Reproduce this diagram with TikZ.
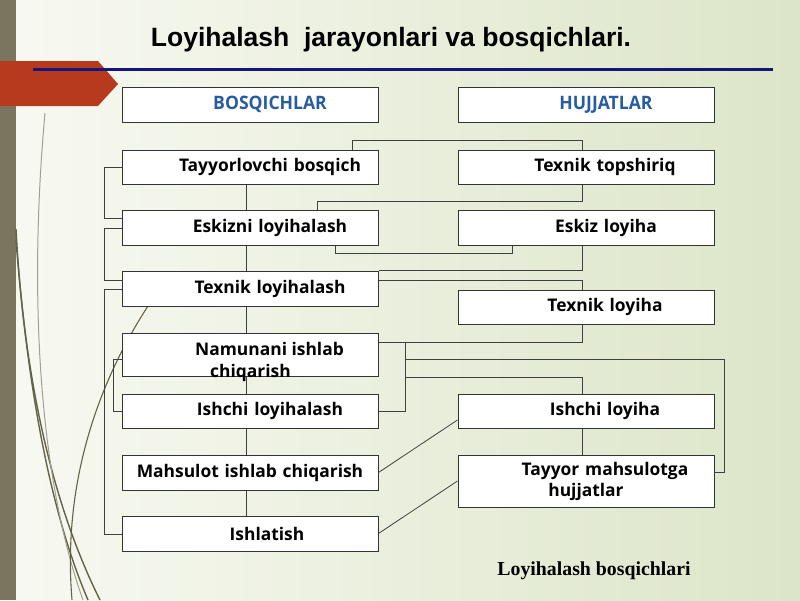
\documentclass[tikz,border=0pt]{standalone}
\usepackage{fontspec}
\usepackage{graphicx}
\setmainfont{Open Sans}
\newfontfamily\titlefont{Liberation Sans}
\newfontfamily\capfont{Liberation Serif}
\usetikzlibrary{positioning}

\definecolor{bgleft}{RGB}{248,249,242}
\definecolor{bgright}{RGB}{220,229,200}
\definecolor{stripcol}{RGB}{122,117,94}
\definecolor{arrowcol}{RGB}{184,58,30}
\definecolor{rulecol}{RGB}{22,22,122}
\definecolor{headcol}{RGB}{40,92,160}
\definecolor{wispcol}{RGB}{100,98,72}

\begin{document}
\begin{tikzpicture}[x=1pt,y=-1pt]
    \tikzstyle{box}=[rectangle,draw=black!80,line width=1pt,fill=white,minimum width=256pt,text width=256pt,inner xsep=0pt,inner ysep=0pt,align=center,font=\fontsize{17.4}{21}\selectfont\bfseries]
    \tikzstyle{head}=[box,minimum height=35pt,text=headcol,font=\fontsize{18.5}{21}\selectfont\bfseries]
    \tikzstyle{link}=[draw=black!75,line width=0.8pt]
    \tikzstyle{wisp}=[draw=wispcol,line width=1.4pt]

    \useasboundingbox (0,0) rectangle (800,600);
    \shade[left color=bgleft,right color=bgright] (0,0) rectangle (800,600);

    % theme decoration
    \fill[stripcol] (0,0) rectangle (16,600);
    \draw[wisp] (16,229) .. controls (25,400) and (60,520) .. (100,600);
    \draw[wisp] (16,240) .. controls (30,420) and (58,530) .. (88,600);
    \draw[wisp,draw=wispcol!60,line width=1pt] (45,113) .. controls (28,300) and (40,480) .. (83,600);
    \draw[wisp,line width=1.1pt] (148,306) .. controls (100,380) and (62,480) .. (72,600);
    \fill[arrowcol] (0,61) -- (98,61) -- (118,84) -- (98,106) -- (0,106) -- cycle;
    \draw[rulecol,line width=3pt] (33,69) -- (773,69);

    \node[font=\titlefont\fontsize{26.5}{30}\selectfont\bfseries] (title) at (391,40) {Loyihalash\ \ jarayonlari va bosqichlari.};

    % stages
    \node[head] (bq) at (250,104.5) {\hspace*{40pt}\scalebox{0.95}[1]{BOSQICHLAR}};
    \node[box,minimum height=34pt] (tb) at (250,167) {\hspace*{40pt}Tayyorlovchi bosqich};
    \node[box,minimum height=35pt] (ez) at (250,227.5) {\hspace*{40pt}Eskizni loyihalash};
    \node[box,minimum height=35pt] (tl) at (250,288.5) {\hspace*{40pt}Texnik loyihalash};
    \node[box,minimum height=43pt] (nm) at (250,354.5) {};
    \node[font=\fontsize{17.4}{22}\selectfont\bfseries,align=left,inner sep=0pt,anchor=north west] (nmt) at (195,342) {Namunani ishlab\\\hspace*{15pt}chiqarish};
    \node[box,minimum height=34pt] (il) at (250,411) {\hspace*{40pt}Ishchi loyihalash};
    \node[box,minimum height=35pt] (mc) at (250,472.5) {Mahsulot ishlab chiqarish};
    \node[box,minimum height=35pt] (is) at (250,533.5) {\hspace*{34pt}Ishlatish};

    % documents
    \node[head] (hj) at (586,104.5) {\hspace*{40pt}\scalebox{0.95}[1]{HUJJATLAR}};
    \node[box,minimum height=34pt] (tt) at (586,167) {\hspace*{38pt}Texnik topshiriq};
    \node[box,minimum height=35pt] (el) at (586,227.5) {\hspace*{40pt}Eskiz loyiha};
    \node[box,minimum height=34pt] (tly) at (586,307) {\hspace*{38pt}Texnik loyiha};
    \node[box,minimum height=34pt] (iy) at (586,411) {\hspace*{38pt}Ishchi loyiha};
    \node[box,minimum height=52pt] (tm) at (586,481) {\hspace*{38pt}Tayyor mahsulotga\\hujjatlar};

    % stage chain
    \foreach \a/\b in {tb/ez,ez/tl,tl/nm,nm/il,il/mc,mc/is}
        \draw[link] (\a.south -| 246,0) -- (\b.north -| 246,0);

    % left brackets
    \draw[link] (tb.west) -| (104,218) -- (ez.west |- 0,218);
    \draw[link] (ez.west |- 0,228) -| (104,280) -- (tl.west |- 0,280);
    \draw[link] (tl.west |- 0,289) -| (104,534) -- (is.west |- 0,534);
    \draw[link] (nm.west |- 0,359) -| (113,411) -- (il.west);

    % stages to documents
    \draw[link] (tb.north -| 352,0) |- (582,140) -- (tt.north -| 582,0);
    \draw[link] (tt.south -| 582,0) |- (317,201) -- (ez.north -| 317,0);
    \draw[link] (ez.south -| 335,0) |- (512,253) -- (el.south -| 512,0);
    \draw[link] (el.south -| 582,0) |- (tl.north east);
    \draw[link] (tl.east |- 0,280) -| (tly.north -| 582,0);
    \draw[link] (tly.south -| 582,0) |- (nm.east |- 0,342);
    \draw[link] (il.east) -| (405,342);
    \draw[link] (405,359) -| (724,472) -- (tm.east |- 0,472);
    \draw[link] (405,377) -| (iy.north -| 582,0);
    \draw[link] (iy.south -| 582,0) -- (tm.north -| 582,0);
    \draw[link] (mc.east) -- (iy.west |- 0,420);
    \draw[link] (is.east) -- (tm.west);

    \node[font=\capfont\fontsize{19.8}{22}\selectfont\bfseries] (cap) at (594,571) {Loyihalash bosqichlari};
\end{tikzpicture}
\end{document}
